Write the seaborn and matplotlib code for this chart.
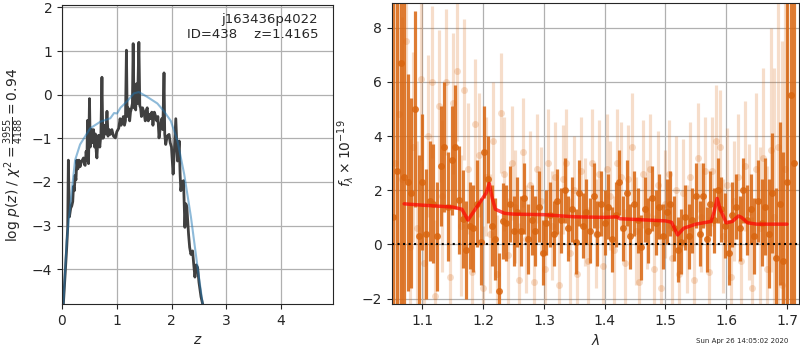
import numpy as np
import pandas as pd
import matplotlib
matplotlib.use('Agg')
import matplotlib.pyplot as plt
import seaborn as sns

# --- p(z) panel ---
z_pdf = [0.025, 0.055, 0.086, 0.104, 0.116, 0.135, 0.159, 0.178, 0.196, 0.21,
         0.225, 0.239, 0.255, 0.27, 0.29, 0.31, 0.33, 0.35, 0.37, 0.392,
         0.41, 0.423, 0.44, 0.455, 0.466, 0.475, 0.484, 0.502, 0.515, 0.527,
         0.545, 0.56, 0.576, 0.595, 0.61, 0.625, 0.637, 0.655, 0.668, 0.69,
         0.71, 0.729, 0.745, 0.76, 0.78, 0.80, 0.821, 0.84, 0.86, 0.882,
         0.91, 0.94, 0.974, 1.0, 1.035, 1.06, 1.08, 1.097, 1.12, 1.14,
         1.158, 1.176, 1.19, 1.205, 1.219, 1.235, 1.25, 1.27, 1.285, 1.299,
         1.315, 1.329, 1.345, 1.36, 1.38, 1.403, 1.42, 1.434, 1.45, 1.47,
         1.495, 1.52, 1.54, 1.556, 1.575, 1.6, 1.618, 1.64, 1.66, 1.685,
         1.71, 1.73, 1.75, 1.771, 1.80, 1.82, 1.84, 1.862, 1.875, 1.893,
         1.92, 1.954, 1.975, 1.998, 2.028, 2.05, 2.077, 2.095, 2.108, 2.125,
         2.139, 2.155, 2.169, 2.19, 2.218, 2.243, 2.26, 2.279, 2.295, 2.31,
         2.33, 2.353, 2.37, 2.384, 2.405, 2.426, 2.45, 2.475, 2.5, 2.537, 2.568]
logp = [-4.8, -4.18, -3.5, -3.05, -1.5, -2.8, -2.6, -2.55, -2.45, -2.1,
        -2.2, -1.85, -1.95, -1.5, -1.7, -1.5, -1.65, -1.55, -1.5, -1.45,
        -1.6, -1.62, -1.3, -1.5, -0.59, -1.3, -1.58, -0.09, -1.2, -1.1,
        -0.8, -1.1, -0.8, -1.2, -0.9, -1.3, -1.45, -1.0, -0.93, -1.2,
        -0.9, 0.4, -1.0, -0.98, -0.7, -0.9, -0.38, -0.95, -0.8, -0.91,
        -0.8, -0.95, -0.99, -0.85, -0.77, -0.55, -0.7, -0.62, -0.5, -0.7,
        -0.6, 1.02, -0.5, -0.3, -0.37, -0.6, -0.4, -0.3, -0.2, 1.17,
        -0.3, -0.1, -0.35, 0.25, -0.2, 1.2, -0.25, -0.3, -0.5, -0.3,
        -0.4, -0.6, -0.35, -0.3, -0.6, -0.45, -0.55, -0.4, -0.7, -0.4,
        -0.5, -0.6, -0.5, -0.99, -0.7, -0.55, -0.8, 0.5, -0.9, -1.14,
        -0.95, -0.91, -1.1, -1.2, -1.82, -1.3, -0.55, -1.1, -1.52, -1.3,
        -1.06, -1.8, -2.2, -2.0, -1.97, -3.04, -2.5, -2.58, -2.9, -3.2,
        -3.5, -3.66, -3.6, -3.58, -3.9, -4.18, -3.9, -3.96, -4.3, -4.63, -4.8]

z_prior = [0.025, 0.086, 0.178, 0.239, 0.33, 0.515, 0.699, 0.882, 0.95, 1.005, 1.066,
           1.189, 1.311, 1.403, 1.556, 1.74, 1.862, 1.985, 2.108, 2.23, 2.353, 2.475, 2.568]
logp_prior = [-4.8, -3.35, -2.2, -1.5, -1.14, -0.77, -0.62, -0.54, -0.42, -0.43, -0.3,
              -0.15, 0.03, 0.06, -0.05, -0.2, -0.38, -0.6, -1.06, -1.82, -2.8, -3.96, -4.8]

# --- spectrum panel ---
lam_dark = np.round(np.linspace(1.052, 1.712, 111), 4)
flux_dark = [1.0, 2.7, 6.7, 2.5, 2.3, 1.9, 5.0, 0.3, 2.3, 0.4,
             1.6, 1.5, 0.3, 2.9, 3.6, 1.4, 3.1, 3.6, 1.65, 0.95,
             -0.2, 0.7, 0.6, 1.5, 0.1, 3.4, 2.4, 0.7, 0.2, -1.7,
             0.85, 0.8, 1.5, 0.5, 1.2, 0.5, 1.7, 0.2, 0.9, 0.5,
             1.4, -0.3, 0.8, 1.1, 0.4, 1.6, 0.9, 2.0, 0.6, 1.3,
             0.1, 1.9, 0.7, 1.2, 0.5, 1.8, 0.4, 1.5, 0.8, 1.4,
             0.2, 1.1, 2.3, 0.6, 1.9, 0.3, 1.5, 0.9, -0.1, 1.3,
             0.5, 1.7, 0.8, 1.4, 0.3, 1.2, 1.5, 0.6, -0.2, 0.1,
             1.0, 0.3, 0.9, 1.8, 0.4, 1.8, 0.2, 1.5, 0.9, 2.0,
             1.3, 0.7, -0.3, 1.1, 1.4, 0.6, 2.0, 0.9, 1.3, 0.3,
             1.6, 0.8, 1.4, 0.4, 1.9, -0.5, 1.5, -0.6, 2.3, 5.5, 3.0]
err_dark = [12, 12, 10, 8, 4, 3.5, 3.6, 3.0, 2.5, 2.4,
            2.2, 2.2, 2.0, 2.2, 2.4, 2.0, 2.0, 2.3, 2.0, 1.8,
            1.8, 1.6, 1.6, 1.6, 1.6, 1.7, 1.6, 1.5, 1.5, 1.4,
            1.4, 1.4, 1.4, 1.3, 1.3, 1.3, 1.3, 1.3, 1.3, 1.3,
            1.3, 1.2, 1.2, 1.2, 1.2, 1.2, 1.2, 1.2, 1.2, 1.2,
            1.2, 1.2, 1.2, 1.2, 1.2, 1.2, 1.2, 1.2, 1.2, 1.2,
            1.2, 1.2, 1.2, 1.2, 1.2, 1.2, 1.2, 1.2, 1.2, 1.2,
            1.2, 1.2, 1.2, 1.2, 1.2, 1.2, 1.2, 1.2, 1.2, 1.2,
            1.2, 1.2, 1.2, 1.2, 1.2, 1.2, 1.2, 1.2, 1.2, 1.2,
            1.2, 1.2, 1.2, 1.2, 1.2, 1.2, 1.2, 1.3, 1.3, 1.4,
            1.5, 1.6, 1.8, 2.0, 2.2, 2.6, 3.0, 4.0, 12, 12, 12]

lam_light = np.round(np.linspace(1.055, 1.697, 108), 4)
flux_light = [3.0, 4.8, 2.4, 7.5, -0.1, 3.6, 0.6, 6.1, -0.7, 4.0,
              6.0, -1.9, 5.1, 1.8, 6.0, -1.2, 5.2, 6.4, 0.7, 5.7,
              2.8, -1.0, 4.45, 3.3, -1.6, 2.5, 0.4, 3.8, -1.1, 4.85,
              2.6, -0.4, 3.0, 1.4, -1.3, 3.4, 0.2, 2.2, -1.4, 2.8,
              1.6, -0.9, 3.0, 0.7, 2.5, -1.5, 2.4, 3.0, -0.3, 2.0,
              -1.1, 2.7, 1.2, -0.6, 3.0, 0.4, 2.6, -0.8, 2.8, 1.8,
              -0.2, 3.0, 2.5, -0.7, 2.4, 3.6, 0.5, -1.4, 2.6, 1.1,
              2.8, -0.9, 2.2, -1.6, 1.5, 2.6, -0.5, 2.0, -1.1, 1.9,
              0.2, 2.5, -1.3, 3.2, 1.0, 2.7, -1.0, 2.7, 3.8, 3.6,
              0.3, 2.2, -1.2, 1.6, 2.5, -0.6, 2.9, 1.2, -1.6, 2.8,
              0.6, 3.2, -0.9, 3.5, 1.0, 3.6, -1.5, 2.8]
err_light = [10, 8, 6, 5, 4, 3.5, 3.2, 3.0, 3.0, 3.0,
             2.8, 2.8, 2.8, 2.8, 2.7, 2.7, 2.6, 2.6, 2.6, 2.6,
             2.4, 2.4, 2.4, 2.3, 2.3, 2.2, 2.2, 2.2, 2.2, 2.2,
             2.1, 2.1, 2.1, 2.1, 2.1, 2.0, 2.0, 2.0, 2.0, 2.0,
             2.0, 2.0, 2.0, 2.0, 2.0, 2.0, 2.0, 2.0, 2.0, 2.0,
             2.0, 2.0, 2.0, 2.0, 2.0, 2.0, 2.0, 2.0, 2.0, 2.0,
             2.0, 2.0, 2.0, 2.0, 2.0, 2.0, 2.0, 2.0, 2.0, 2.0,
             2.0, 2.0, 2.0, 2.0, 2.0, 2.0, 2.0, 2.0, 2.0, 2.0,
             2.0, 2.0, 2.0, 2.0, 2.0, 2.0, 2.0, 2.0, 2.1, 2.1,
             2.1, 2.1, 2.2, 2.2, 2.3, 2.3, 2.4, 2.5, 2.6, 2.8,
             3.0, 3.3, 3.8, 4.5, 5.5, 7, 9, 11]

lam_model = [1.07, 1.10, 1.15, 1.165, 1.175, 1.19, 1.205, 1.21, 1.215, 1.22, 1.235, 1.25,
             1.30, 1.35, 1.40, 1.42, 1.425, 1.50, 1.51, 1.52, 1.53, 1.55, 1.575, 1.58,
             1.585, 1.59, 1.60, 1.61, 1.62, 1.625, 1.635, 1.65, 1.70]
flux_model = [1.5, 1.45, 1.38, 1.3, 0.9, 1.4, 1.9, 2.25, 1.7, 1.3, 1.15, 1.12,
              1.1, 1.02, 1.0, 1.02, 0.95, 0.87, 0.82, 0.35, 0.6, 0.75, 0.85, 1.2,
              1.7, 1.3, 0.8, 0.85, 1.05, 1.0, 0.8, 0.75, 0.75]

obj_name = 'j163436p4022'
obj_id = 438
z_best = 1.4165
stamp = 'Sun Apr 26 14:05:02 2020'

sns.set_style('ticks')
plt.rcParams['font.family'] = ['DejaVu Sans']
plt.rcParams['xtick.labelsize'] = 10
plt.rcParams['ytick.labelsize'] = 10

fig = plt.figure(figsize=(8, 3.5), dpi=100)
ax1 = fig.add_axes([0.0775, 0.131, 0.339, 0.854])
ax2 = fig.add_axes([0.49, 0.131, 0.509, 0.86])

pdf = pd.DataFrame({'z': z_pdf, 'logp': logp})
prior = pd.DataFrame({'z': z_prior, 'logp': logp_prior})
sns.lineplot(data=pdf, x='z', y='logp', ax=ax1, color='0.25', lw=2, sort=False)
sns.lineplot(data=prior, x='z', y='logp', ax=ax1, color='tab:blue', alpha=0.5, lw=1.5)
ax1.set_xlim(0, 4.95)
ax1.set_ylim(-4.8, 2.05)
ax1.set_xticks([0, 1, 2, 3, 4])
ax1.grid(True, color='#b0b0b0', lw=0.9)
ax1.set_xlabel(r'$z$', fontsize=10)
ax1.set_ylabel(r'log $p(z)$ / $\chi^2=\frac{3955}{4188}=0.94$', fontsize=10)
ax1.text(0.945, 0.975, '%s\nID=%d    z=%.4f' % (obj_name, obj_id, z_best),
         transform=ax1.transAxes, ha='right', va='top', fontsize=9.5)

orange = '#d9650f'
ax2.errorbar(lam_light, flux_light, yerr=err_light, fmt='o', color=orange, alpha=0.22,
             ms=5, lw=2.3, mec='none', zorder=1)
ax2.errorbar(lam_dark, flux_dark, yerr=err_dark, fmt='o', color=orange, alpha=0.85,
             ms=5, lw=2.3, mec='none', zorder=2)
model = pd.DataFrame({'lam': lam_model, 'flux': flux_model})
sns.lineplot(data=model, x='lam', y='flux', ax=ax2, color='red', lw=2.5, alpha=0.7, zorder=4)
ax2.axhline(0, color='k', ls=':', lw=1.5, zorder=5)
ax2.set_xlim(1.05, 1.72)
ax2.set_ylim(-2.2, 8.9)
ax2.set_xticks([1.1, 1.2, 1.3, 1.4, 1.5, 1.6, 1.7])
ax2.set_yticks([-2, 0, 2, 4, 6, 8])
ax2.grid(True, color='#b0b0b0', lw=0.9)
ax2.set_xlabel(r'$\lambda$', fontsize=10)
ax2.set_ylabel(r'$f_\lambda\times10^{-19}$', fontsize=10)

fig.text(0.985, 0.026, stamp, ha='right', va='center', fontsize=5)

fig.savefig('out.png', dpi=100)
